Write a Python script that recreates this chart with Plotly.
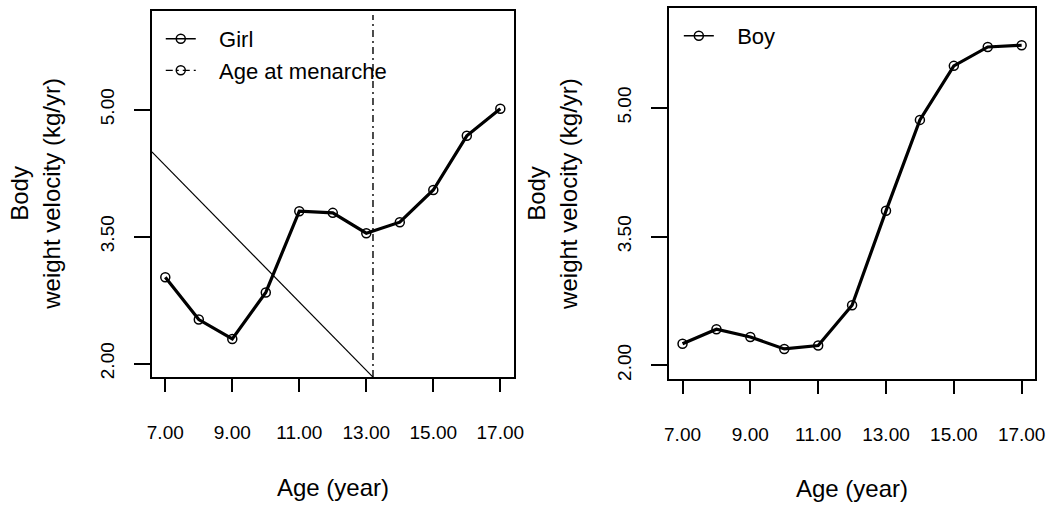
import plotly.graph_objects as go

# ---------------- data ----------------
ages = [7, 8, 9, 10, 11, 12, 13, 14, 15, 16, 17]
girl_velocity = [3.02, 2.52, 2.29, 2.84, 3.80, 3.78, 3.54, 3.67, 4.05, 4.69, 5.01]
boy_velocity = [2.25, 2.42, 2.33, 2.19, 2.23, 2.70, 3.80, 4.86, 5.49, 5.71, 5.73]
menarche_age = 13.2
guide_x = [6.6, 13.2]
guide_y = [4.5, 1.84]

x_tickvals = [7, 9, 11, 13, 15, 17]
x_ticktext = ["7.00", "9.00", "11.00", "13.00", "15.00", "17.00"]
y_tickvals = [2.0, 3.5, 5.0]
y_ticktext = ["2.00", "3.50", "5.00"]
x_range = [6.6, 17.4]
y_range = [1.84, 6.16]

FONT = "Liberation Sans, Arial, Helvetica, sans-serif"
W, H = 1060, 506
NB = "\u00a0\u00a0\u00a0"

marker = dict(symbol="circle-open", size=9, color="black", line=dict(width=1.5, color="black"))
dotdash = "7px,4px,2px,4px"

fig = go.Figure()

# Girl panel
fig.add_trace(go.Scatter(x=ages, y=girl_velocity, mode="lines+markers",
                         line=dict(color="black", width=3.2), marker=marker,
                         xaxis="x", yaxis="y", showlegend=False, name="Girl"))
fig.add_trace(go.Scatter(x=guide_x, y=guide_y, mode="lines",
                         line=dict(color="black", width=1.2),
                         xaxis="x", yaxis="y", showlegend=False))
fig.add_trace(go.Scatter(x=[None], y=[None], mode="lines+markers", name=NB + "Girl",
                         line=dict(color="black", width=1.3), marker=marker,
                         xaxis="x", yaxis="y", legend="legend"))
fig.add_trace(go.Scatter(x=[None], y=[None], mode="lines+markers", name=NB + "Age at menarche",
                         line=dict(color="black", width=1.3, dash=dotdash), marker=marker,
                         xaxis="x", yaxis="y", legend="legend"))

# Boy panel
fig.add_trace(go.Scatter(x=ages, y=boy_velocity, mode="lines+markers",
                         line=dict(color="black", width=3.2), marker=marker,
                         xaxis="x2", yaxis="y2", showlegend=False, name="Boy"))
fig.add_trace(go.Scatter(x=[None], y=[None], mode="lines+markers", name=NB + "Boy",
                         line=dict(color="black", width=1.3), marker=marker,
                         xaxis="x2", yaxis="y2", legend="legend2"))

fig.add_shape(type="line", xref="x", yref="y domain", x0=menarche_age, x1=menarche_age,
              y0=0, y1=0.99, line=dict(color="black", width=1.4, dash=dotdash))

axis_common = dict(showline=True, linewidth=1.8, linecolor="black", mirror=True,
                   ticks="outside", tickcolor="black", tickwidth=1.6,
                   showgrid=False, zeroline=False,
                   tickfont=dict(family=FONT, size=19, color="black"))

xdom1 = [149 / W, 516 / W]
xdom2 = [673.5 / W, 1045 / W]
ydom1 = [1 - 378.6 / H, 1 - 11.4 / H]
ydom2 = [1 - 380.5 / H, 1 - 8.4 / H]

fig.update_layout(
    width=W, height=H, autosize=False,
    margin=dict(l=0, r=0, t=0, b=0),
    paper_bgcolor="white", plot_bgcolor="white",
    font=dict(family=FONT, color="black"),
    xaxis=dict(domain=xdom1, range=x_range, tickvals=x_tickvals, ticktext=x_ticktext,
               ticklen=13, ticklabelstandoff=24, anchor="y", **axis_common),
    yaxis=dict(domain=ydom1, range=y_range, tickvals=y_tickvals, ticktext=y_ticktext,
               ticklen=16, tickangle=-90, ticklabelstandoff=12, anchor="x", **axis_common),
    xaxis2=dict(domain=xdom2, range=x_range, tickvals=x_tickvals, ticktext=x_ticktext,
                ticklen=13, ticklabelstandoff=24, anchor="y2", **axis_common),
    yaxis2=dict(domain=ydom2, range=y_range, tickvals=y_tickvals, ticktext=y_ticktext,
                ticklen=16, tickangle=-90, ticklabelstandoff=12, anchor="x2", **axis_common),
    legend=dict(x=158 / W, y=1 - 18 / H, xanchor="left", yanchor="top",
                bgcolor="rgba(0,0,0,0)", borderwidth=0, itemwidth=30, tracegroupgap=0,
                font=dict(family=FONT, size=22, color="black")),
    legend2=dict(x=683.5 / W, y=1 - 15 / H, xanchor="left", yanchor="top",
                 bgcolor="rgba(0,0,0,0)", borderwidth=0, itemwidth=30, tracegroupgap=0,
                 font=dict(family=FONT, size=22, color="black")),
    annotations=[
        dict(text="Age (year)", xref="paper", yref="paper", x=(149 + 516) / 2 / W, y=1 - 489 / H,
             xanchor="center", yanchor="middle", showarrow=False, font=dict(size=24)),
        dict(text="Age (year)", xref="paper", yref="paper", x=(673.5 + 1045) / 2 / W, y=1 - 490 / H,
             xanchor="center", yanchor="middle", showarrow=False, font=dict(size=24)),
        dict(text="Body<br>weight velocity (kg/yr)", xref="paper", yref="paper", x=31 / W,
             y=1 - 195 / H, xanchor="center", yanchor="middle", textangle=-90,
             showarrow=False, font=dict(size=24)),
        dict(text="Body<br>weight velocity (kg/yr)", xref="paper", yref="paper", x=555 / W,
             y=1 - 194.5 / H, xanchor="center", yanchor="middle", textangle=-90,
             showarrow=False, font=dict(size=24)),
    ],
)

fig.write_html("out.html")
